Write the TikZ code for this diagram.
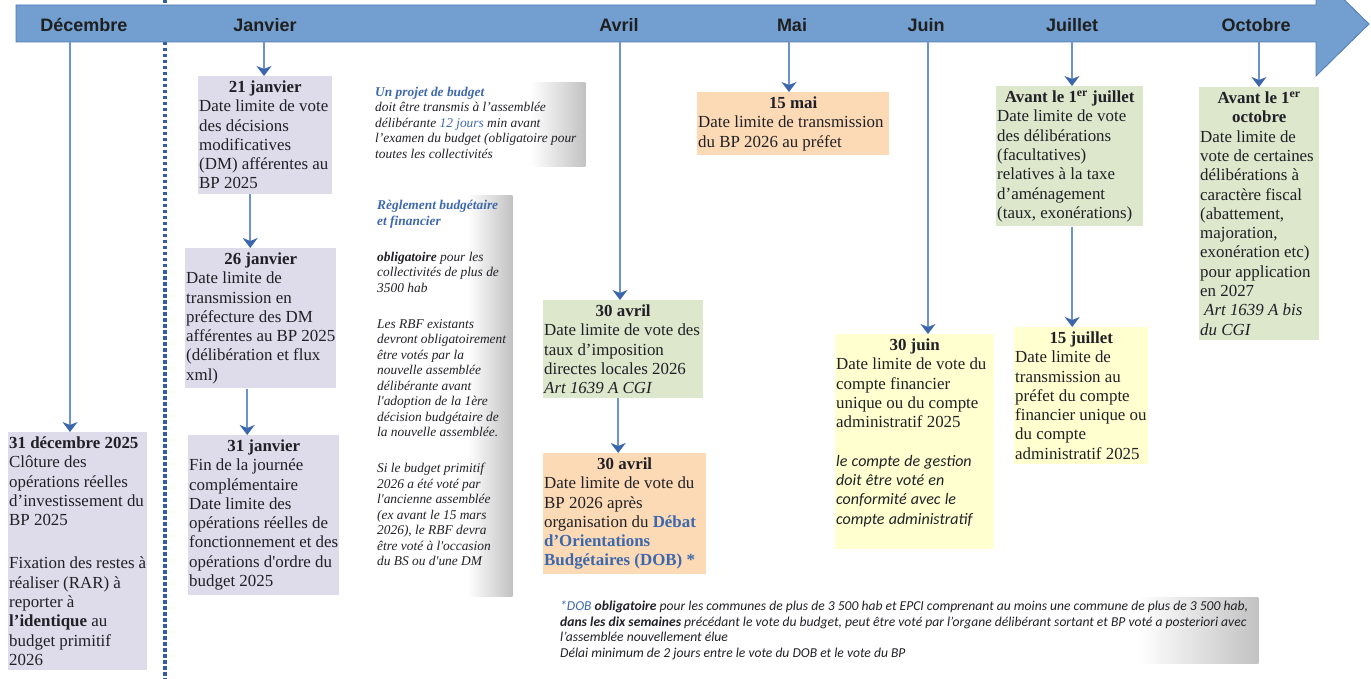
\documentclass[tikz,border=0pt]{standalone}
\usepackage{fontspec}
\setmainfont{Liberation Serif}
\newfontfamily\monthfont{Liberation Sans}
\newfontfamily\califont{Carlito}
\usetikzlibrary{arrows.meta,backgrounds}

\definecolor{bandfill}{RGB}{114,159,207}
\definecolor{bandline}{RGB}{80,122,178}
\definecolor{linkblue}{RGB}{108,148,204}
\definecolor{tipblue}{RGB}{60,102,172}
\definecolor{sepblue}{RGB}{52,92,162}
\definecolor{lavbox}{RGB}{222,220,234}
\definecolor{greenbox}{RGB}{220,231,204}
\definecolor{orangebox}{RGB}{252,218,182}
\definecolor{yellowbox}{RGB}{255,255,208}
\definecolor{noteblue}{RGB}{62,104,172}
\definecolor{txtdark}{RGB}{32,32,38}

\newcommand{\boxfont}{\fontsize{16.9}{19.3}\selectfont}
\newcommand{\notefont}{\itshape\fontsize{13.4}{15.5}\selectfont}
\newcommand{\dobfont}{\califont\itshape\fontsize{13.6}{15.5}\selectfont}
\newcommand{\monthlabel}{\monthfont\bfseries\fontsize{18}{20}\selectfont}
\newcommand{\boxhead}[1]{\makebox[\linewidth][c]{\bfseries #1}}
\newcommand{\padbot}[1]{\rule[-#1]{0pt}{#1}}
\newcommand{\calit}[1]{{\califont\itshape\fontsize{16}{19.3}\selectfont #1}}
\newcommand{\sq}{\textquotesingle}
\newcommand{\natspaces}{\spaceskip=\fontdimen2\font plus \fontdimen3\font minus 2\fontdimen4\font\relax
    \xspaceskip=0pt\relax\linepenalty=5000\relax}

\begin{document}
\begin{tikzpicture}[x=1pt,y=-1pt,
            datebox/.style={fill=#1, anchor=north west, inner xsep=1pt, inner ysep=4.5pt,
                align=left, font=\boxfont, text=txtdark, execute at begin node=\natspaces},
            notebox/.style={anchor=north west, inner xsep=2pt, inner ysep=4pt,
                align=left, text=txtdark, execute at begin node=\natspaces},
            fadeshade/.style={left color=white, right color=black!24},
            month/.style={anchor=base, font=\monthlabel, text=black!88},
            link/.style={draw=linkblue, line width=1.6pt,
                -{Stealth[width=15pt,length=10pt,inset=3pt,color=tipblue]}}]
            \useasboundingbox (0,0) rectangle (1371,679);
            \clip (0,0) rectangle (1371,679);

            \draw[sepblue, line width=3.5pt, dash pattern=on 3.5pt off 2.5pt] (165,0) -- (165,679);
            \draw[bandline, fill=bandfill, line width=0.8pt] (16,5) -- (1316,5) -- (1316,-28)
                -- (1369,24) -- (1316,76) -- (1316,42) -- (16,42) -- cycle;

            \node[month] (mDec) at (84,31.5) {Décembre};
            \node[month] (mJan) at (265,31.5) {Janvier};
            \node[month] (mAvr) at (619,31.5) {Avril};
            \node[month] (mMai) at (792,31.5) {Mai};
            \node[month] (mJuin) at (926,31.5) {Juin};
            \node[month] (mJuil) at (1072,31.5) {Juillet};
            \node[month] (mOct) at (1256,31.5) {Octobre};

            \coordinate (tDec) at (70,42);
            \coordinate (tJan) at (264,42);
            \coordinate (tAvr) at (620,42);
            \coordinate (tMai) at (789,42);
            \coordinate (tJuin) at (928,42);
            \coordinate (tJuil) at (1072,42);
            \coordinate (tOct) at (1259,42);

            \node[datebox=lavbox, text width=137pt] (b31dec) at (8,432)
                {\textbf{31 décembre 2025}\\ Clôture des\\ opérations réelles\\ d’investissement du\\ BP 2025\\[24pt]
                 Fixation des restes à\\ réaliser (RAR) à\\ reporter à\\ \textbf{l’identique} au\\ budget primitif\\ 2026};
            \node[datebox=lavbox, text width=132pt] (b21jan) at (198,76)
                {\boxhead{21 janvier}\\ Date limite de vote\\ des décisions\\ modificatives\\ (DM) afférentes au\\ BP 2025};
            \node[datebox=lavbox, text width=149pt] (b26jan) at (185,248)
                {\boxhead{26 janvier}\\ Date limite de\\ transmission en\\ préfecture des DM\\ afférentes au BP 2025\\ (délibération et flux\\ xml)};
            \node[datebox=lavbox, text width=149pt] (b31jan) at (188,435)
                {\boxhead{31 janvier}\\ Fin de la journée\\ complémentaire\\ Date limite des\\ opérations réelles de\\ fonctionnement et des\\ opérations d\sq ordre du\\ budget 2025};

            \node[notebox, text width=208pt, font=\notefont] (nProjet) at (373,83)
                {{\color{noteblue}\bfseries Un projet de budget}\\ doit être transmis à l’assemblée\\
                 délibérante {\color{noteblue}12 jours} min avant\\ l’examen du budget (obligatoire pour\\
                 toutes les collectivités\padbot{3.5pt}};
            \node[notebox, text width=133pt, font=\notefont] (nRbf) at (375,196)
                {{\color{noteblue}\bfseries Règlement budgétaire}\\ {\color{noteblue}\bfseries et financier}\\[20.5pt]
                 \textbf{obligatoire} pour les\\ collectivités de plus de\\ 3500 hab\\[20.5pt]
                 Les RBF existants\\ devront obligatoirement\\ être votés par la\\ nouvelle assemblée\\
                 délibérante avant\\ l\sq adoption de la 1ère\\ décision budgétaire de\\ la nouvelle assemblée.\\[20.5pt]
                 Si le budget primitif\\ 2026 a été voté par\\ l\sq ancienne assemblée\\ (ex avant le 15 mars\\
                 2026), le RBF devra\\ être voté à l\sq occasion\\ du BS ou d\sq une DM\padbot{27pt}};

            \node[datebox=greenbox, text width=158pt] (b30avrA) at (543,300)
                {\boxhead{30 avril}\\ Date limite de vote des\\ taux d’imposition\\ directes locales 2026\\ \textit{Art 1639 A CGI}};
            \node[datebox=orangebox, text width=161pt] (b30avrB) at (543,453)
                {\boxhead{30 avril}\\ Date limite de vote du\\ BP 2026 après\\ organisation du {\color{noteblue}\bfseries Débat}\\
                 {\color{noteblue}\bfseries d’Orientations}\\ {\color{noteblue}\bfseries Budgétaires (DOB) *}};
            \node[datebox=orangebox, text width=190pt] (b15mai) at (697,92)
                {\boxhead{15 mai}\\ Date limite de transmission\\ du BP 2026 au préfet};
            \node[datebox=greenbox, text width=145pt] (bJuil) at (996,86)
                {\boxhead{Avant le 1\textsuperscript{er} juillet}\\ Date limite de vote\\ des délibérations\\ (facultatives)\\
                 relatives à la taxe\\ d’aménagement\\ (taux, exonérations)};
            \node[datebox=yellowbox, text width=157pt] (b30juin) at (835,334)
                {\boxhead{30 juin}\\ Date limite de vote du\\ compte financier\\ unique ou du compte\\ administratif 2025\\[19.3pt]
                 \calit{le compte de gestion}\\ \calit{doit être voté en}\\ \calit{conformité avec le}\\
                 \calit{compte administratif}\padbot{20pt}};
            \node[datebox=yellowbox, text width=132pt] (b15juil) at (1014,327)
                {\boxhead{15 juillet}\\ Date limite de\\ transmission au\\ préfet du compte\\ financier unique ou\\ du compte\\ administratif 2025};
            \node[datebox=greenbox, text width=118pt] (bOct) at (1199,87)
                {\boxhead{Avant le 1\textsuperscript{er}}\\ \boxhead{octobre}\\ Date limite de\\ vote de certaines\\ délibérations à\\
                 caractère fiscal\\ (abattement,\\ majoration,\\ exonération etc)\\ pour application\\ en 2027\\
                 \hspace*{4pt}\textit{Art 1639 A bis}\\ \textit{du CGI}};

            \node[notebox, text width=693pt, inner xsep=5pt, font=\dobfont] (nDob) at (555,597)
                {{\color{noteblue}*DOB} \textbf{obligatoire} pour les communes de plus de 3 500 hab et EPCI comprenant au moins une commune de plus de 3 500 hab,\\
                 \textbf{dans les dix semaines} précédant le vote du budget, peut être voté par l’organe délibérant sortant et BP voté a posteriori avec\\
                 l’assemblée nouvellement élue\\ Délai minimum de 2 jours entre le vote du DOB et le vote du BP};

            \begin{scope}[on background layer]
                \shade[fadeshade] ([xshift=-55pt]nProjet.north east) rectangle (nProjet.south east);
                \shade[fadeshade] ([xshift=-45pt]nRbf.north east) rectangle (nRbf.south east);
                \shade[fadeshade] ([xshift=-120pt]nDob.north east) rectangle (nDob.south east);
            \end{scope}

            \draw[link] (tDec) -- (tDec |- b31dec.north);
            \draw[link] (tJan) -- (tJan |- b21jan.north);
            \draw[link] ([xshift=-15pt]b21jan.south) -- ([xshift=-15pt]b21jan.south |- b26jan.north);
            \draw[link] ([xshift=-13.5pt]b26jan.south) -- ([xshift=-13.5pt]b26jan.south |- b31jan.north);
            \draw[link] (tAvr) -- (tAvr |- b30avrA.north);
            \draw[link] ([xshift=-5pt]b30avrA.south) -- ([xshift=-5pt]b30avrA.south |- b30avrB.north);
            \draw[link] (tMai) -- (tMai |- b15mai.north);
            \draw[link] (tJuin) -- (tJuin |- b30juin.north);
            \draw[link] (tJuil) -- (tJuil |- bJuil.north);
            \draw[link] ([xshift=2.5pt]bJuil.south) -- ([xshift=2.5pt]bJuil.south |- b15juil.north);
            \draw[link] (tOct) -- (tOct |- bOct.north);
        \end{tikzpicture}
\end{document}
